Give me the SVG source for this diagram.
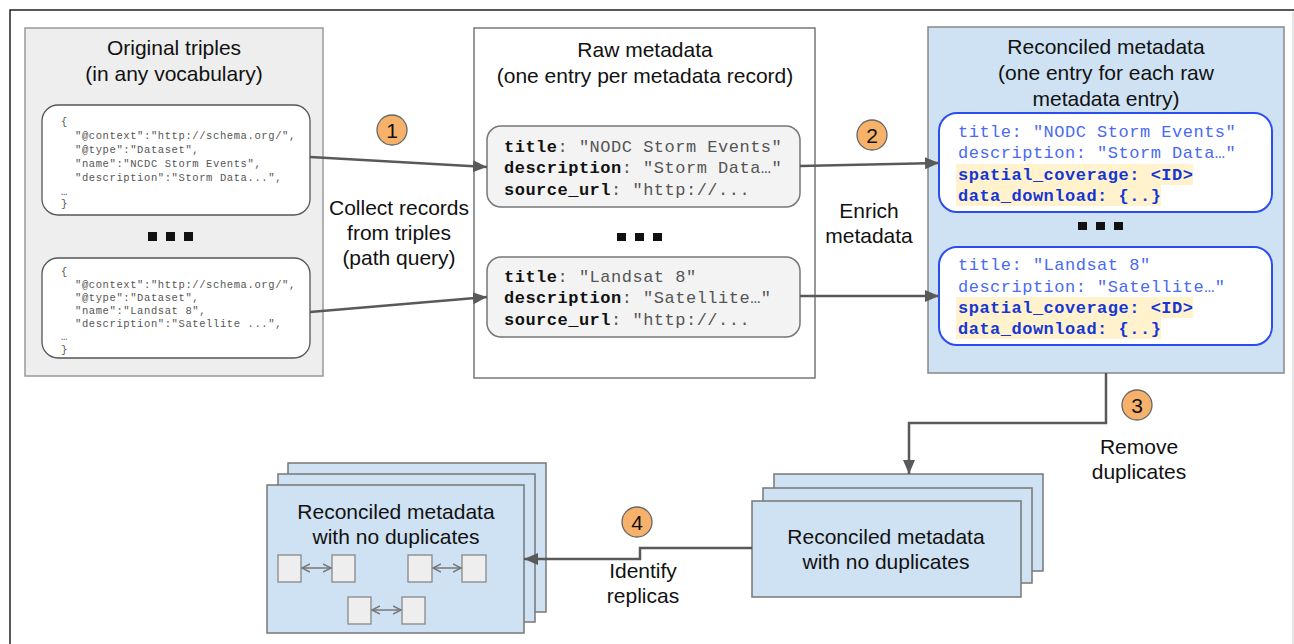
<svg xmlns="http://www.w3.org/2000/svg" width="1294" height="644" viewBox="0 0 1294 644">
  <defs>
    <style>
      .sans { font-family: "Liberation Sans", Arial, sans-serif; fill: #111; }
      .title { font-size: 21px; text-anchor: middle; }
      .label { font-size: 21px; text-anchor: middle; }
      .mono { font-family: "Liberation Mono", "Courier New", monospace; }
      .code { font-size: 10.5px; letter-spacing: 0.6px; fill: #555; }
      .rec { font-size: 17px; letter-spacing: 0.5px; fill: #555; }
      .rec .k { font-weight: bold; fill: #111; }
      .enr { font-size: 17px; letter-spacing: 0.5px; fill: #4a6af2; }
      .enr .b { font-weight: bold; fill: #1536d6; }
      .hl { fill: #fff2cc; }
      .panel-gray { fill: #eeeeee; stroke: #999; stroke-width: 1.5; }
      .panel-white { fill: #fff; stroke: #777; stroke-width: 1.5; }
      .panel-blue { fill: #cfe2f3; stroke: #888; stroke-width: 1.5; }
      .json { fill: #fff; stroke: #555; stroke-width: 1.3; }
      .raw { fill: #f3f3f3; stroke: #777; stroke-width: 1.5; }
      .rich { fill: #fff; stroke: #2b4cf0; stroke-width: 2; }
      .dot { fill: #111; }
      .sheet { fill: #cfe2f3; stroke: #777; stroke-width: 1.5; }
      .mini { fill: #eeeeee; stroke: #888; stroke-width: 1.3; }
      .flow { fill: none; stroke: #595959; stroke-width: 2.5; }
      .pair { fill: none; stroke: #777; stroke-width: 1.5; }
      .step circle { fill: #f6b26b; stroke: #666; stroke-width: 1.3; }
      .step text { font-family: "Liberation Sans", Arial, sans-serif; font-size: 21px; text-anchor: middle; fill: #111; }
    </style>
    <marker id="head" markerUnits="userSpaceOnUse" markerWidth="16" markerHeight="14" refX="14" refY="7" orient="auto">
      <path d="M0,1 L14,7 L0,13 Z" fill="#595959"/>
    </marker>
    <marker id="tip" markerUnits="userSpaceOnUse" markerWidth="10" markerHeight="10" refX="8" refY="5" orient="auto-start-reverse">
      <path d="M0,1 L8,5 L0,9" fill="none" stroke="#777" stroke-width="1.5"/>
    </marker>
  </defs>

  <!-- page frame -->
  <path d="M10 644 V10 H1294" fill="none" stroke="#222" stroke-width="1.5"/>
  <line x1="1293" y1="12" x2="1293" y2="644" stroke="#ccc" stroke-width="1"/>

  <!-- source triples -->
  <g id="original-triples">
    <rect class="panel-gray" x="25" y="28" width="298" height="348"/>
    <text class="sans title" x="174" y="55">Original triples</text>
    <text class="sans title" x="174" y="81">(in any vocabulary)</text>
    <rect class="json" x="42" y="105" width="268" height="110" rx="16"/>
    <g class="mono code">
      <text x="61" y="125">{</text>
      <text x="75" y="139">"@context":"http://schema.org/",</text>
      <text x="75" y="153">"@type":"Dataset",</text>
      <text x="75" y="167">"name":"NCDC Storm Events",</text>
      <text x="75" y="181">"description":"Storm Data...",</text>
      <text x="61" y="195">…</text>
      <text x="61" y="207">}</text>
    </g>
    <rect class="dot" x="148" y="232" width="9" height="9"/>
    <rect class="dot" x="166" y="232" width="9" height="9"/>
    <rect class="dot" x="184" y="232" width="9" height="9"/>
    <rect class="json" x="42" y="258" width="268" height="100" rx="16"/>
    <g class="mono code">
      <text x="61" y="275">{</text>
      <text x="75" y="288">"@context":"http://schema.org/",</text>
      <text x="75" y="301">"@type":"Dataset",</text>
      <text x="75" y="314">"name":"Landsat 8",</text>
      <text x="75" y="327">"description":"Satellite ...",</text>
      <text x="61" y="340">…</text>
      <text x="61" y="353">}</text>
    </g>
  </g>

  <!-- raw metadata -->
  <g id="raw-metadata">
    <rect class="panel-white" x="474" y="28" width="341" height="350"/>
    <text class="sans title" x="645" y="57">Raw metadata</text>
    <text class="sans title" x="645" y="83">(one entry per metadata record)</text>
    <rect class="raw" x="487" y="126" width="313" height="81" rx="14"/>
    <g class="mono rec">
      <text x="504" y="152"><tspan class="k">title</tspan>: "NODC Storm Events"</text>
      <text x="504" y="173"><tspan class="k">description</tspan>: "Storm Data…"</text>
      <text x="504" y="195"><tspan class="k">source_url</tspan>: "http://...</text>
    </g>
    <rect class="dot" x="617" y="233" width="9" height="8"/>
    <rect class="dot" x="635" y="233" width="9" height="8"/>
    <rect class="dot" x="653" y="233" width="9" height="8"/>
    <rect class="raw" x="487" y="257" width="313" height="80" rx="14"/>
    <g class="mono rec">
      <text x="504" y="282"><tspan class="k">title</tspan>: "Landsat 8"</text>
      <text x="504" y="303"><tspan class="k">description</tspan>: "Satellite…"</text>
      <text x="504" y="325"><tspan class="k">source_url</tspan>: "http://...</text>
    </g>
  </g>

  <!-- reconciled metadata -->
  <g id="reconciled-metadata">
    <rect class="panel-blue" x="928" y="27" width="356" height="346"/>
    <text class="sans title" x="1106" y="54">Reconciled metadata</text>
    <text class="sans title" x="1106" y="80">(one entry for each raw</text>
    <text class="sans title" x="1106" y="106">metadata entry)</text>
    <rect class="rich" x="939" y="113" width="333" height="99" rx="18"/>
    <rect class="hl" x="956" y="164" width="237" height="21"/>
    <rect class="hl" x="956" y="185" width="205" height="21"/>
    <g class="mono enr">
      <text x="958" y="137">title: "NODC Storm Events"</text>
      <text x="958" y="158">description: "Storm Data…"</text>
      <text x="958" y="180" class="b">spatial_coverage: &lt;ID&gt;</text>
      <text x="958" y="201" class="b">data_download: {..}</text>
    </g>
    <rect class="dot" x="1078" y="222" width="9" height="8"/>
    <rect class="dot" x="1096" y="222" width="9" height="8"/>
    <rect class="dot" x="1114" y="222" width="9" height="8"/>
    <rect class="rich" x="939" y="247" width="333" height="98" rx="18"/>
    <rect class="hl" x="956" y="297" width="237" height="21"/>
    <rect class="hl" x="956" y="318" width="205" height="21"/>
    <g class="mono enr">
      <text x="958" y="270">title: "Landsat 8"</text>
      <text x="958" y="292">description: "Satellite…"</text>
      <text x="958" y="313" class="b">spatial_coverage: &lt;ID&gt;</text>
      <text x="958" y="334" class="b">data_download: {..}</text>
    </g>
  </g>

  <!-- deduplicated stack -->
  <g id="deduplicated">
    <rect class="sheet" x="774" y="474" width="269" height="97"/>
    <rect class="sheet" x="763" y="488" width="269" height="95"/>
    <rect class="sheet" x="752" y="501" width="269" height="96"/>
    <text class="sans title" x="886" y="544">Reconciled metadata</text>
    <text class="sans title" x="886" y="569">with no duplicates</text>
  </g>

  <!-- replica stack -->
  <g id="replicas">
    <rect class="sheet" x="288" y="463" width="258" height="149"/>
    <rect class="sheet" x="278" y="474" width="257" height="148"/>
    <rect class="sheet" x="267" y="485" width="257" height="148"/>
    <text class="sans title" x="396" y="519">Reconciled metadata</text>
    <text class="sans title" x="396" y="544">with no duplicates</text>
    <rect class="mini" x="278" y="555" width="23" height="27"/>
    <rect class="mini" x="332" y="555" width="23" height="27"/>
    <rect class="mini" x="408" y="555" width="24" height="27"/>
    <rect class="mini" x="462" y="555" width="24" height="27"/>
    <rect class="mini" x="348" y="597" width="23" height="27"/>
    <rect class="mini" x="402" y="597" width="23" height="27"/>
    <line class="pair" x1="302" y1="568" x2="331" y2="568" marker-start="url(#tip)" marker-end="url(#tip)"/>
    <line class="pair" x1="433" y1="568" x2="461" y2="568" marker-start="url(#tip)" marker-end="url(#tip)"/>
    <line class="pair" x1="372" y1="610" x2="401" y2="610" marker-start="url(#tip)" marker-end="url(#tip)"/>
  </g>

  <!-- connectors -->
  <g id="connectors">
    <path class="flow" d="M310 157 L487 167" marker-end="url(#head)"/>
    <path class="flow" d="M310 312 L487 297" marker-end="url(#head)"/>
    <path class="flow" d="M800 166 L939 163" marker-end="url(#head)"/>
    <path class="flow" d="M800 296 L939 296" marker-end="url(#head)"/>
    <path class="flow" d="M1106 373 V423 H909 V474" marker-end="url(#head)"/>
    <path class="flow" d="M752 548 H640 V559 H524" marker-end="url(#head)"/>
  </g>

  <!-- step badges and labels -->
  <g id="step-1" class="step">
    <circle cx="392" cy="130" r="15"/>
    <text x="392" y="137.5">1</text>
  </g>
  <g id="step-1-label">
    <text class="sans label" x="399" y="215">Collect records</text>
    <text class="sans label" x="399" y="240">from triples</text>
    <text class="sans label" x="399" y="265">(path query)</text>
  </g>
  <g id="step-2" class="step">
    <circle cx="872" cy="135" r="15"/>
    <text x="872" y="142.5">2</text>
  </g>
  <g id="step-2-label">
    <text class="sans label" x="869" y="218">Enrich</text>
    <text class="sans label" x="869" y="243">metadata</text>
  </g>
  <g id="step-3" class="step">
    <circle cx="1137" cy="405" r="15"/>
    <text x="1137" y="412.5">3</text>
  </g>
  <g id="step-3-label">
    <text class="sans label" x="1139" y="454">Remove</text>
    <text class="sans label" x="1139" y="479">duplicates</text>
  </g>
  <g id="step-4" class="step">
    <circle cx="637" cy="522" r="15"/>
    <text x="637" y="529.5">4</text>
  </g>
  <g id="step-4-label">
    <text class="sans label" x="643" y="578">Identify</text>
    <text class="sans label" x="643" y="603">replicas</text>
  </g>
</svg>
